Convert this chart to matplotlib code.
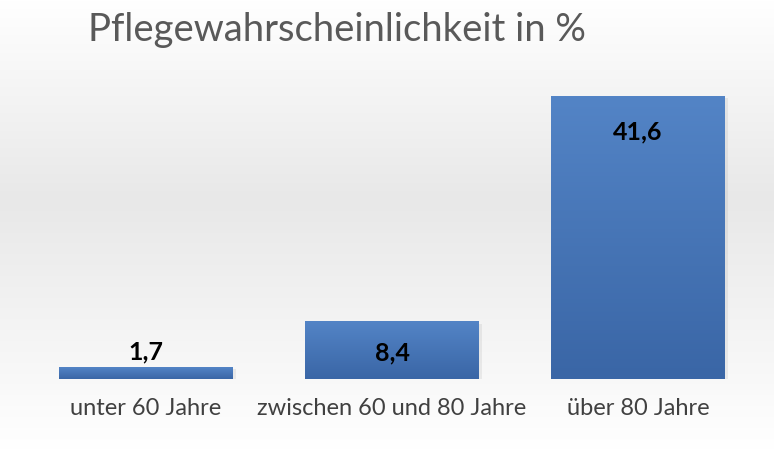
import matplotlib
matplotlib.use("Agg")
import matplotlib.pyplot as plt
import numpy as np

plt.rcParams["font.family"] = "Lato"

categories = ["unter 60 Jahre", "zwischen 60 und 80 Jahre", "über 80 Jahre"]
values = [1.7, 8.4, 41.6]
labels = ["1,7", "8,4", "41,6"]

fig = plt.figure(figsize=(7.74, 4.5), dpi=100)

# soft grey background band
bg = fig.add_axes([0, 0, 1, 1], zorder=-10)
g = np.concatenate([np.linspace(1.0, 0.91, 200), np.linspace(0.91, 1.0, 250)])
bg.imshow(np.dstack([g, g, g]).reshape(450, 1, 3), aspect="auto", extent=[0, 1, 0, 1])
bg.axis("off")

ax = fig.add_axes([23 / 774, 71 / 450, 738 / 774, 306 / 450])
ax.patch.set_alpha(0)
ax.set_xlim(-0.5, 2.5)
ax.set_ylim(0, 45)

x = np.arange(len(categories))
w = 0.707
grad = np.linspace(0, 1, 100).reshape(-1, 1)
cmap = matplotlib.colors.LinearSegmentedColormap.from_list("b", ["#3a66a6", "#5384c6"])
bars = ax.bar(x, values, w, color="none")
for b in bars:
    x0, y1 = b.get_x(), b.get_height()
    ax.bar(x0 + w / 2 + 0.012, y1, w, bottom=-0.3, color="#000000", alpha=0.06, zorder=1)
    ax.imshow(grad, cmap=cmap, origin="lower", aspect="auto",
              extent=[x0, x0 + w, 0, y1], zorder=2)

ax.text(x[0], values[0] + 0.6, labels[0], ha="center", va="bottom",
        fontsize=18, fontweight="bold", color="black", zorder=3)
ax.text(x[1], values[1] / 2 - 0.3, labels[1], ha="center", va="center",
        fontsize=18, fontweight="bold", color="black", zorder=3)
ax.text(x[2], values[2] - 5.3, labels[2], ha="center", va="center",
        fontsize=18, fontweight="bold", color="black", zorder=3)

ax.set_xticks(x)
ax.set_xticklabels(categories, fontsize=17, color="#404040")
ax.tick_params(axis="x", length=0, pad=14)
ax.set_yticks([])
for s in ax.spines.values():
    s.set_visible(False)

fig.text(88 / 774, 1 - 30 / 450, "Pflegewahrscheinlichkeit in %", fontsize=27.5,
         color="#595959", va="center", ha="left")

fig.savefig("out.png", dpi=100)
